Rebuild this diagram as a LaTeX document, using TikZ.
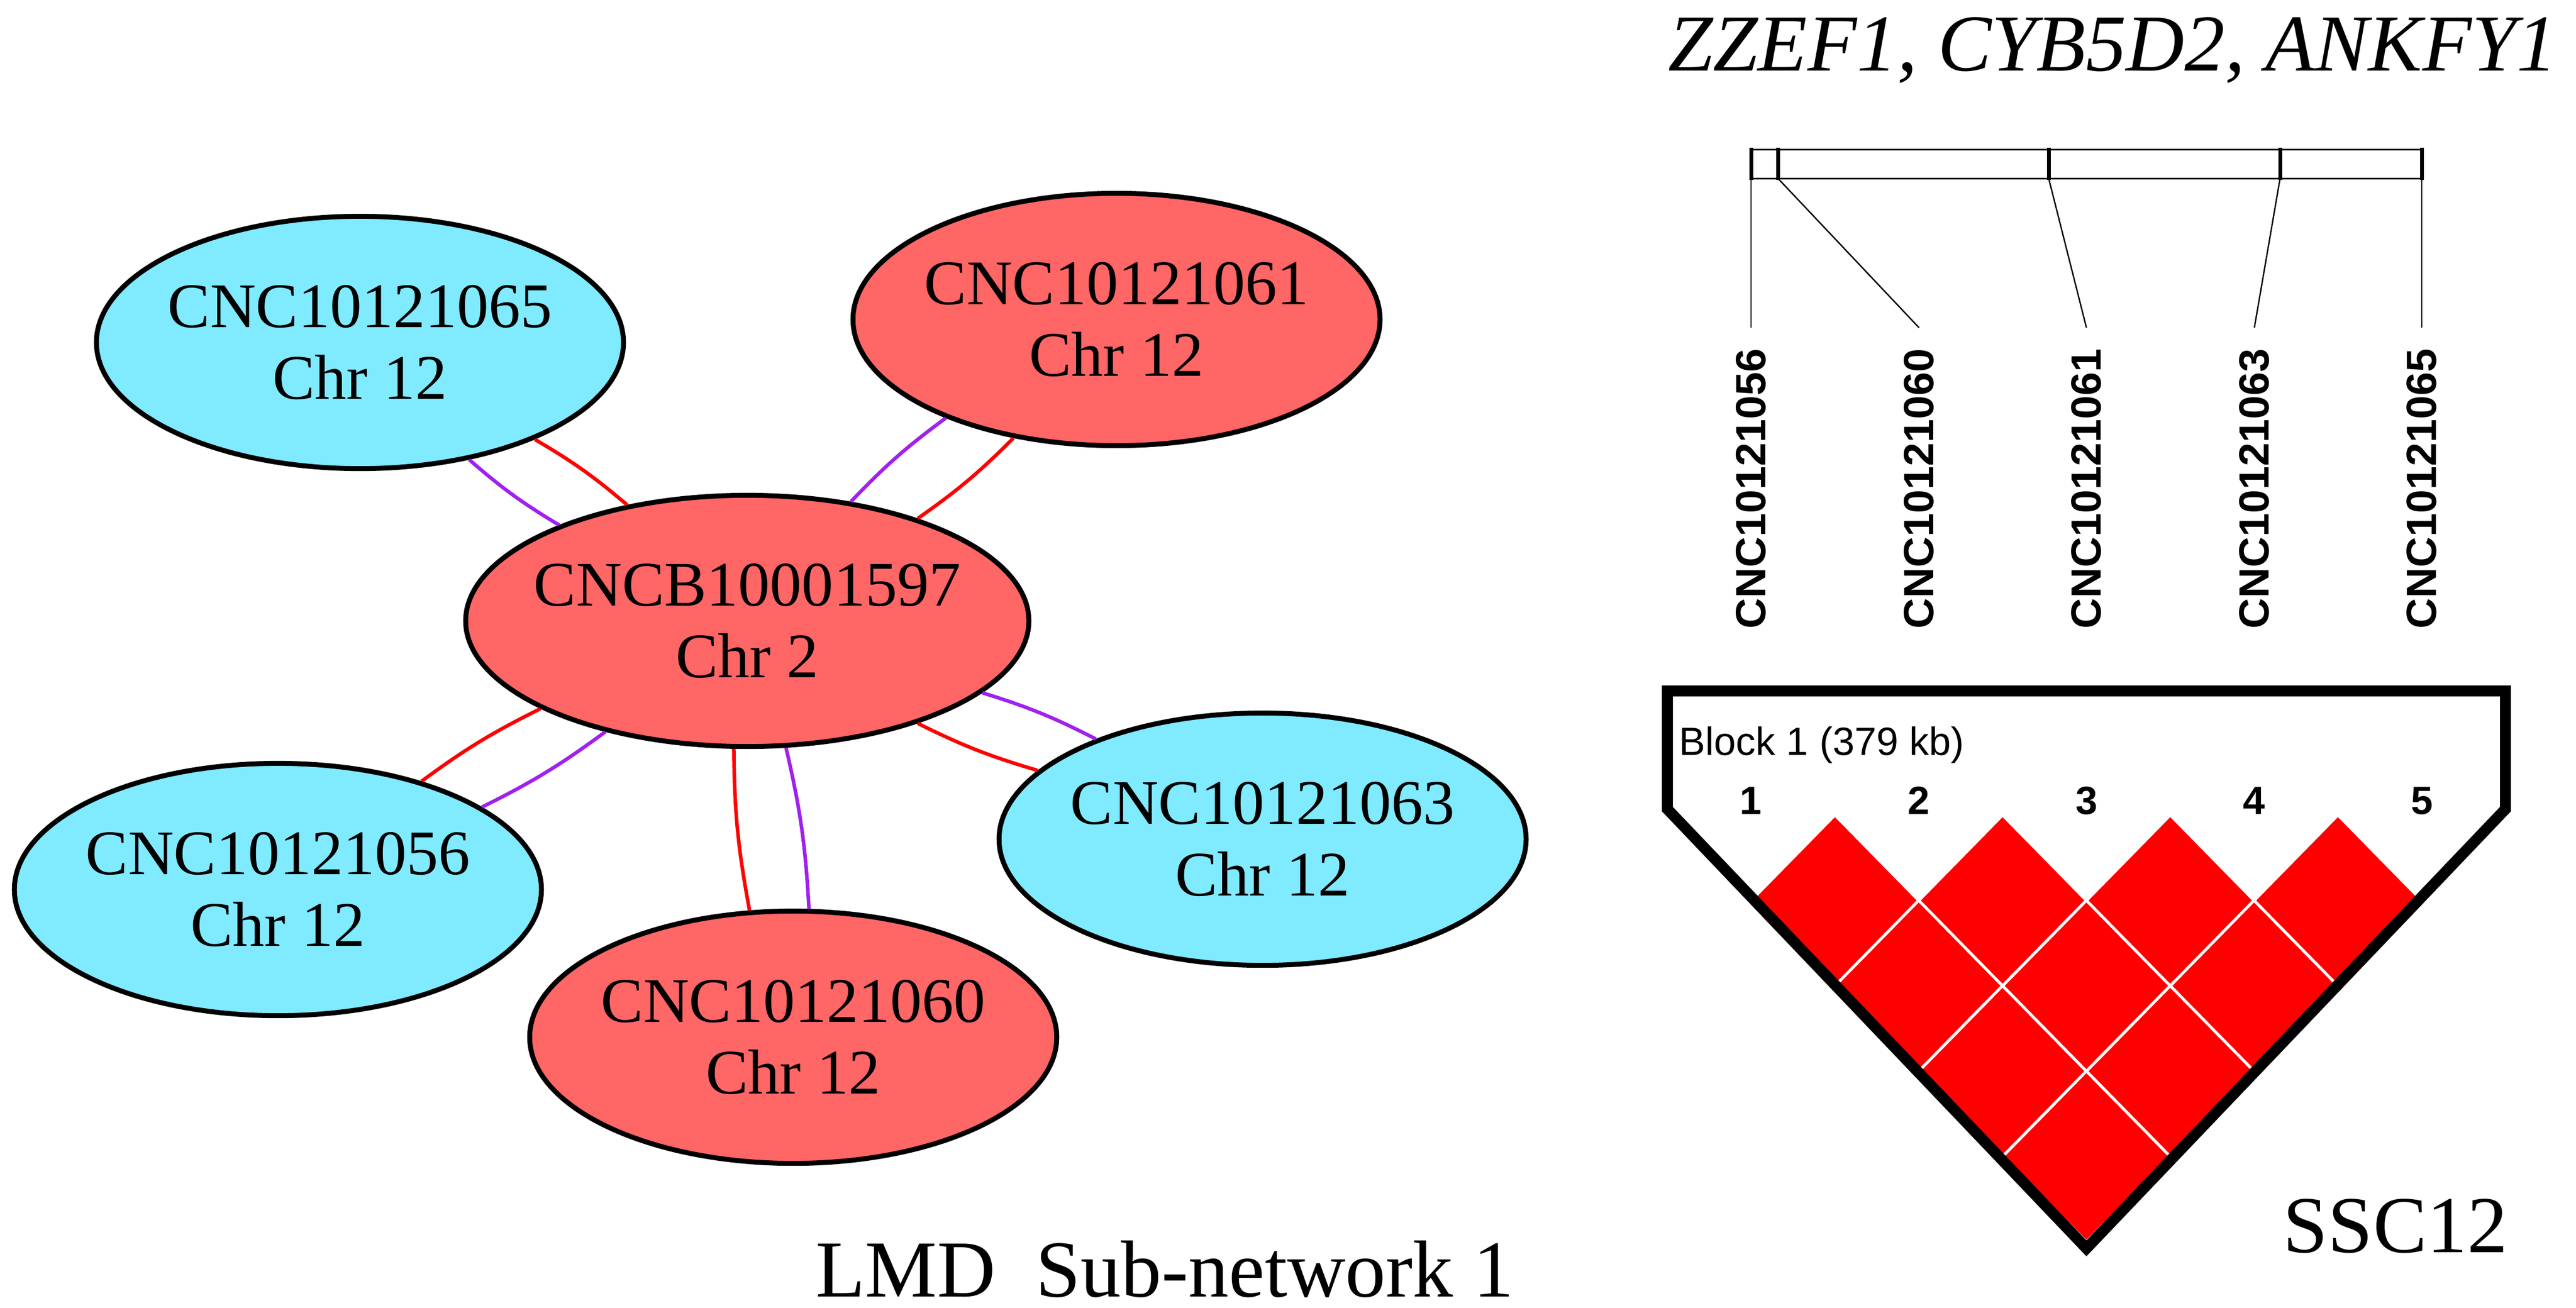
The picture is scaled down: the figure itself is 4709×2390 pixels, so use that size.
\documentclass[tikz,border=0pt]{standalone}
\usepackage{fontspec}
\setmainfont{Liberation Serif}
\newfontfamily\arialfont{Liberation Sans}
\usetikzlibrary{shapes.geometric}
\definecolor{nodecyan}{RGB}{128,234,255}
\definecolor{nodered}{RGB}{255,102,102}
\definecolor{edgered}{RGB}{255,0,0}
\definecolor{edgepurple}{RGB}{160,32,240}
\definecolor{ldred}{RGB}{255,0,0}
\begin{document}
\begin{tikzpicture}[x=0.01cm,y=-0.01cm,
  gene/.style={ellipse, draw=black, line width=0.09cm, inner xsep=-0.4cm, inner ysep=0pt,
    minimum width=9.63cm, minimum height=4.61cm, align=center,
    font=\fontsize{33}{37.3}\selectfont},
  cyannode/.style={gene, fill=nodecyan},
  rednode/.style={gene, fill=nodered},
  redge/.style={draw=edgered, line width=0.065cm, bend right=5},
  pedge/.style={draw=edgepurple, line width=0.065cm, bend left=5},
  bigtext/.style={inner sep=0pt, font=\fontsize{42}{50}\selectfont},
  snplabel/.style={rotate=90, anchor=east, inner sep=0pt,
    font=\arialfont\bfseries\fontsize{22}{26}\selectfont},
  marknum/.style={anchor=base, inner sep=0pt,
    font=\arialfont\bfseries\fontsize{20.5}{24}\selectfont},
  barline/.style={line width=0.03cm},
  tickline/.style={line width=0.07cm},
  linkline/.style={line width=0.025cm},
  ldcell/.style={fill=ldred, draw=white, line width=0.05cm},
  ldframe/.style={draw=black, line width=0.2cm, line join=miter}
]
\useasboundingbox (0,0) rectangle (4709,2390);

% ---------- network ----------
\node[cyannode] (A) at (658,626) {CNC10121065\\Chr 12};
\node[rednode]  (B) at (2041,584) {CNC10121061\\Chr 12};
\node[rednode, minimum width=10.29cm, minimum height=4.59cm] (C) at (1366,1135) {CNCB10001597\\Chr 2};
\node[cyannode] (D) at (508,1626) {CNC10121056\\Chr 12};
\node[rednode]  (E) at (1450,1896) {CNC10121060\\Chr 12};
\node[cyannode] (F) at (2308,1534) {CNC10121063\\Chr 12};

\draw[pedge] (C.153.4) to (A.313.9);
\draw[redge] (C.136.0) to (A.331.8);
\draw[pedge] (C.49.5) to (B.210.9);
\draw[redge] (C.31.3) to (B.229.8);
\draw[pedge] (C.343.4) to (F.149.3);
\draw[redge] (C.329.1) to (F.163.7);
\draw[pedge] (C.287.8) to (E.83.9);
\draw[redge] (C.264.3) to (E.109.0);
\draw[pedge] (C.218.9) to (D.22.9);
\draw[redge] (C.203.6) to (D.37.8);

\node[bigtext, anchor=base west] (lmd) at (1491,2370) {LMD~~Sub-network 1};

% ---------- gene bar ----------
\node[bigtext, anchor=base west, font=\itshape\fontsize{42}{50}\selectfont] (title) at (3049,129) {ZZEF1, CYB5D2, ANKFY1};

\draw[barline] (3201,273) rectangle (4427,326);
\foreach \t [count=\k] in {3201,3250,3745,4168,4427} {
  \draw[tickline] (\t,270) -- (\t,329);
  \coordinate (tk\k) at (\t,326);
}
\foreach \lx/\txt [count=\k] in {3201/CNC10121056,3508/CNC10121060,3814/CNC10121061,4121/CNC10121063,4427/CNC10121065} {
  \node[snplabel] (l\k) at (\lx,637) {\txt};
  \coordinate (lt\k) at (\lx,599);
}
\foreach \k in {1,...,5} { \draw[linkline] (tk\k) -- (lt\k); }

% ---------- LD block ----------
\foreach \i in {1,...,4} {
  \pgfmathtruncatemacro\jstart{\i+1}
  \foreach \j in {\jstart,...,5} {
    \pgfmathsetmacro\cx{3201+306.5*((\i+\j)/2-1)}
    \pgfmathsetmacro\cy{1646+156*(\j-\i-1)}
    \path[ldcell] (\cx,\cy-156) -- (\cx+153,\cy) -- (\cx,\cy+156) -- (\cx-153,\cy) -- cycle;
  }
}
\draw[ldframe] (3048,1263) -- (3048,1479) -- (3814,2282) -- (4580,1479) -- (4580,1263) -- cycle;

\node[anchor=base west, inner sep=0pt, font=\arialfont\fontsize{20.5}{24}\selectfont] (block) at (3069,1380) {Block 1 (379 kb)};
\foreach \k in {1,...,5} {
  \node[marknum] (m\k) at ({3201+306.5*(\k-1)},1488) {\k};
}

\node[bigtext, anchor=base east] (ssc) at (4585,2289) {SSC12};
\end{tikzpicture}
\end{document}
